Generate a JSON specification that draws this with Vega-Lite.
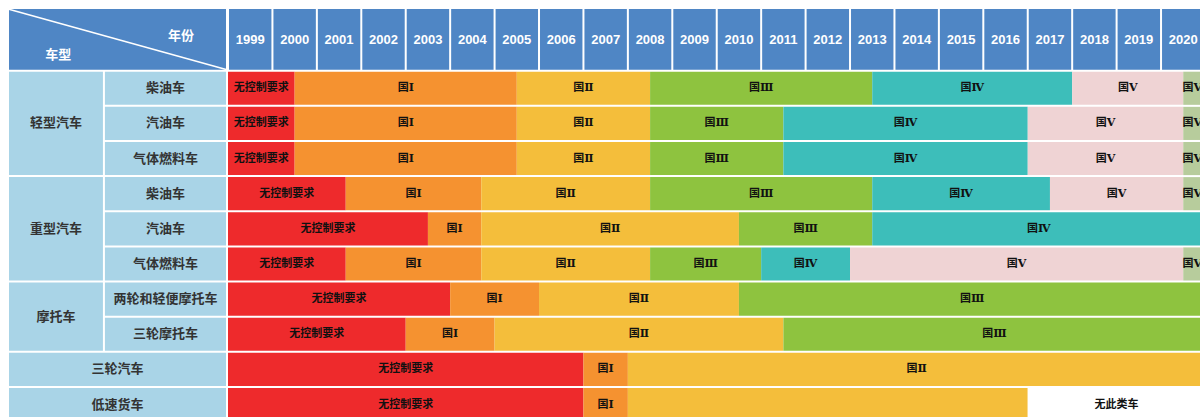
{
  "$schema": "https://vega.github.io/schema/vega-lite/v6.json",
  "background": "white",
  "padding": {"left": 7, "top": 8, "right": 0, "bottom": 0},
  "spacing": 0,
  "config": {"view": {"stroke": null}},
  "datasets": {
    "rowcells": [
      {"label": "轻型汽车", "c0": 0, "c1": 0.438, "r0": 0, "r1": 3},
      {"label": "柴油车", "c0": 0.438, "c1": 1, "r0": 0, "r1": 1},
      {"label": "汽油车", "c0": 0.438, "c1": 1, "r0": 1, "r1": 2},
      {"label": "气体燃料车", "c0": 0.438, "c1": 1, "r0": 2, "r1": 3},
      {"label": "重型汽车", "c0": 0, "c1": 0.438, "r0": 3, "r1": 6},
      {"label": "柴油车", "c0": 0.438, "c1": 1, "r0": 3, "r1": 4},
      {"label": "汽油车", "c0": 0.438, "c1": 1, "r0": 4, "r1": 5},
      {"label": "气体燃料车", "c0": 0.438, "c1": 1, "r0": 5, "r1": 6},
      {"label": "摩托车", "c0": 0, "c1": 0.438, "r0": 6, "r1": 8},
      {"label": "两轮和轻便摩托车", "c0": 0.438, "c1": 1, "r0": 6, "r1": 7},
      {"label": "三轮摩托车", "c0": 0.438, "c1": 1, "r0": 7, "r1": 8},
      {"label": "三轮汽车", "c0": 0, "c1": 1, "r0": 8, "r1": 9},
      {"label": "低速货车", "c0": 0, "c1": 1, "r0": 9, "r1": 10}
    ],
    "years": [
      {"year": 1999, "end": 2000, "label": "1999"},
      {"year": 2000, "end": 2001, "label": "2000"},
      {"year": 2001, "end": 2002, "label": "2001"},
      {"year": 2002, "end": 2003, "label": "2002"},
      {"year": 2003, "end": 2004, "label": "2003"},
      {"year": 2004, "end": 2005, "label": "2004"},
      {"year": 2005, "end": 2006, "label": "2005"},
      {"year": 2006, "end": 2007, "label": "2006"},
      {"year": 2007, "end": 2008, "label": "2007"},
      {"year": 2008, "end": 2009, "label": "2008"},
      {"year": 2009, "end": 2010, "label": "2009"},
      {"year": 2010, "end": 2011, "label": "2010"},
      {"year": 2011, "end": 2012, "label": "2011"},
      {"year": 2012, "end": 2013, "label": "2012"},
      {"year": 2013, "end": 2014, "label": "2013"},
      {"year": 2014, "end": 2015, "label": "2014"},
      {"year": 2015, "end": 2016, "label": "2015"},
      {"year": 2016, "end": 2017, "label": "2016"},
      {"year": 2017, "end": 2018, "label": "2017"},
      {"year": 2018, "end": 2019, "label": "2018"},
      {"year": 2019, "end": 2020, "label": "2019"},
      {"year": 2020, "end": 2021, "label": "2020"}
    ],
    "segments": [
      {"vehicle": "轻型汽车-柴油车", "row": 0, "rowEnd": 1, "stage": "无控制要求", "label": "无控制要求", "start": 1999, "end": 2000.5},
      {"vehicle": "轻型汽车-柴油车", "row": 0, "rowEnd": 1, "stage": "国Ⅰ", "label": "国Ⅰ", "start": 2000.5, "end": 2005.5},
      {"vehicle": "轻型汽车-柴油车", "row": 0, "rowEnd": 1, "stage": "国Ⅱ", "label": "国Ⅱ", "start": 2005.5, "end": 2008.5},
      {"vehicle": "轻型汽车-柴油车", "row": 0, "rowEnd": 1, "stage": "国Ⅲ", "label": "国Ⅲ", "start": 2008.5, "end": 2013.5},
      {"vehicle": "轻型汽车-柴油车", "row": 0, "rowEnd": 1, "stage": "国Ⅳ", "label": "国Ⅳ", "start": 2013.5, "end": 2018},
      {"vehicle": "轻型汽车-柴油车", "row": 0, "rowEnd": 1, "stage": "国Ⅴ", "label": "国Ⅴ", "start": 2018, "end": 2020.5},
      {"vehicle": "轻型汽车-柴油车", "row": 0, "rowEnd": 1, "stage": "国Ⅵ", "label": "国Ⅵ", "start": 2020.5, "end": 2021},

      {"vehicle": "轻型汽车-汽油车", "row": 1, "rowEnd": 2, "stage": "无控制要求", "label": "无控制要求", "start": 1999, "end": 2000.5},
      {"vehicle": "轻型汽车-汽油车", "row": 1, "rowEnd": 2, "stage": "国Ⅰ", "label": "国Ⅰ", "start": 2000.5, "end": 2005.5},
      {"vehicle": "轻型汽车-汽油车", "row": 1, "rowEnd": 2, "stage": "国Ⅱ", "label": "国Ⅱ", "start": 2005.5, "end": 2008.5},
      {"vehicle": "轻型汽车-汽油车", "row": 1, "rowEnd": 2, "stage": "国Ⅲ", "label": "国Ⅲ", "start": 2008.5, "end": 2011.5},
      {"vehicle": "轻型汽车-汽油车", "row": 1, "rowEnd": 2, "stage": "国Ⅳ", "label": "国Ⅳ", "start": 2011.5, "end": 2017},
      {"vehicle": "轻型汽车-汽油车", "row": 1, "rowEnd": 2, "stage": "国Ⅴ", "label": "国Ⅴ", "start": 2017, "end": 2020.5},
      {"vehicle": "轻型汽车-汽油车", "row": 1, "rowEnd": 2, "stage": "国Ⅵ", "label": "国Ⅵ", "start": 2020.5, "end": 2021},

      {"vehicle": "轻型汽车-气体燃料车", "row": 2, "rowEnd": 3, "stage": "无控制要求", "label": "无控制要求", "start": 1999, "end": 2000.5},
      {"vehicle": "轻型汽车-气体燃料车", "row": 2, "rowEnd": 3, "stage": "国Ⅰ", "label": "国Ⅰ", "start": 2000.5, "end": 2005.5},
      {"vehicle": "轻型汽车-气体燃料车", "row": 2, "rowEnd": 3, "stage": "国Ⅱ", "label": "国Ⅱ", "start": 2005.5, "end": 2008.5},
      {"vehicle": "轻型汽车-气体燃料车", "row": 2, "rowEnd": 3, "stage": "国Ⅲ", "label": "国Ⅲ", "start": 2008.5, "end": 2011.5},
      {"vehicle": "轻型汽车-气体燃料车", "row": 2, "rowEnd": 3, "stage": "国Ⅳ", "label": "国Ⅳ", "start": 2011.5, "end": 2017},
      {"vehicle": "轻型汽车-气体燃料车", "row": 2, "rowEnd": 3, "stage": "国Ⅴ", "label": "国Ⅴ", "start": 2017, "end": 2020.5},
      {"vehicle": "轻型汽车-气体燃料车", "row": 2, "rowEnd": 3, "stage": "国Ⅵ", "label": "国Ⅵ", "start": 2020.5, "end": 2021},

      {"vehicle": "重型汽车-柴油车", "row": 3, "rowEnd": 4, "stage": "无控制要求", "label": "无控制要求", "start": 1999, "end": 2001.65},
      {"vehicle": "重型汽车-柴油车", "row": 3, "rowEnd": 4, "stage": "国Ⅰ", "label": "国Ⅰ", "start": 2001.65, "end": 2004.7},
      {"vehicle": "重型汽车-柴油车", "row": 3, "rowEnd": 4, "stage": "国Ⅱ", "label": "国Ⅱ", "start": 2004.7, "end": 2008.5},
      {"vehicle": "重型汽车-柴油车", "row": 3, "rowEnd": 4, "stage": "国Ⅲ", "label": "国Ⅲ", "start": 2008.5, "end": 2013.5},
      {"vehicle": "重型汽车-柴油车", "row": 3, "rowEnd": 4, "stage": "国Ⅳ", "label": "国Ⅳ", "start": 2013.5, "end": 2017.5},
      {"vehicle": "重型汽车-柴油车", "row": 3, "rowEnd": 4, "stage": "国Ⅴ", "label": "国Ⅴ", "start": 2017.5, "end": 2020.5},
      {"vehicle": "重型汽车-柴油车", "row": 3, "rowEnd": 4, "stage": "国Ⅵ", "label": "国Ⅵ", "start": 2020.5, "end": 2021},

      {"vehicle": "重型汽车-汽油车", "row": 4, "rowEnd": 5, "stage": "无控制要求", "label": "无控制要求", "start": 1999, "end": 2003.5},
      {"vehicle": "重型汽车-汽油车", "row": 4, "rowEnd": 5, "stage": "国Ⅰ", "label": "国Ⅰ", "start": 2003.5, "end": 2004.7},
      {"vehicle": "重型汽车-汽油车", "row": 4, "rowEnd": 5, "stage": "国Ⅱ", "label": "国Ⅱ", "start": 2004.7, "end": 2010.5},
      {"vehicle": "重型汽车-汽油车", "row": 4, "rowEnd": 5, "stage": "国Ⅲ", "label": "国Ⅲ", "start": 2010.5, "end": 2013.5},
      {"vehicle": "重型汽车-汽油车", "row": 4, "rowEnd": 5, "stage": "国Ⅳ", "label": "国Ⅳ", "start": 2013.5, "end": 2021},

      {"vehicle": "重型汽车-气体燃料车", "row": 5, "rowEnd": 6, "stage": "无控制要求", "label": "无控制要求", "start": 1999, "end": 2001.65},
      {"vehicle": "重型汽车-气体燃料车", "row": 5, "rowEnd": 6, "stage": "国Ⅰ", "label": "国Ⅰ", "start": 2001.65, "end": 2004.7},
      {"vehicle": "重型汽车-气体燃料车", "row": 5, "rowEnd": 6, "stage": "国Ⅱ", "label": "国Ⅱ", "start": 2004.7, "end": 2008.5},
      {"vehicle": "重型汽车-气体燃料车", "row": 5, "rowEnd": 6, "stage": "国Ⅲ", "label": "国Ⅲ", "start": 2008.5, "end": 2011},
      {"vehicle": "重型汽车-气体燃料车", "row": 5, "rowEnd": 6, "stage": "国Ⅳ", "label": "国Ⅳ", "start": 2011, "end": 2013},
      {"vehicle": "重型汽车-气体燃料车", "row": 5, "rowEnd": 6, "stage": "国Ⅴ", "label": "国Ⅴ", "start": 2013, "end": 2020.5},
      {"vehicle": "重型汽车-气体燃料车", "row": 5, "rowEnd": 6, "stage": "国Ⅵ", "label": "国Ⅵ", "start": 2020.5, "end": 2021},

      {"vehicle": "摩托车-两轮和轻便摩托车", "row": 6, "rowEnd": 7, "stage": "无控制要求", "label": "无控制要求", "start": 1999, "end": 2004},
      {"vehicle": "摩托车-两轮和轻便摩托车", "row": 6, "rowEnd": 7, "stage": "国Ⅰ", "label": "国Ⅰ", "start": 2004, "end": 2006},
      {"vehicle": "摩托车-两轮和轻便摩托车", "row": 6, "rowEnd": 7, "stage": "国Ⅱ", "label": "国Ⅱ", "start": 2006, "end": 2010.5},
      {"vehicle": "摩托车-两轮和轻便摩托车", "row": 6, "rowEnd": 7, "stage": "国Ⅲ", "label": "国Ⅲ", "start": 2010.5, "end": 2021},

      {"vehicle": "摩托车-三轮摩托车", "row": 7, "rowEnd": 8, "stage": "无控制要求", "label": "无控制要求", "start": 1999, "end": 2003},
      {"vehicle": "摩托车-三轮摩托车", "row": 7, "rowEnd": 8, "stage": "国Ⅰ", "label": "国Ⅰ", "start": 2003, "end": 2005},
      {"vehicle": "摩托车-三轮摩托车", "row": 7, "rowEnd": 8, "stage": "国Ⅱ", "label": "国Ⅱ", "start": 2005, "end": 2011.5},
      {"vehicle": "摩托车-三轮摩托车", "row": 7, "rowEnd": 8, "stage": "国Ⅲ", "label": "国Ⅲ", "start": 2011.5, "end": 2021},

      {"vehicle": "三轮汽车", "row": 8, "rowEnd": 9, "stage": "无控制要求", "label": "无控制要求", "start": 1999, "end": 2007},
      {"vehicle": "三轮汽车", "row": 8, "rowEnd": 9, "stage": "国Ⅰ", "label": "国Ⅰ", "start": 2007, "end": 2008},
      {"vehicle": "三轮汽车", "row": 8, "rowEnd": 9, "stage": "国Ⅱ", "label": "国Ⅱ", "start": 2008, "end": 2021},

      {"vehicle": "低速货车", "row": 9, "rowEnd": 10, "stage": "无控制要求", "label": "无控制要求", "start": 1999, "end": 2007},
      {"vehicle": "低速货车", "row": 9, "rowEnd": 10, "stage": "国Ⅰ", "label": "国Ⅰ", "start": 2007, "end": 2008},
      {"vehicle": "低速货车", "row": 9, "rowEnd": 10, "stage": "国Ⅱ", "label": "", "start": 2008, "end": 2017},
      {"vehicle": "低速货车", "row": 9, "rowEnd": 10, "stage": "无此类车", "label": "无此类车", "start": 2017, "end": 2021}
    ]
  },
  "hconcat": [
    {
      "width": 219,
      "height": 409,
      "layer": [
        {
          "data": {"values": [{"cell": "车型/年份"}]},
          "mark": {"type": "rect", "fill": "#4F86C5", "xOffset": 1, "x2Offset": -1, "yOffset": 1, "y2Offset": -1},
          "encoding": {
            "x": {"datum": 0, "type": "quantitative", "scale": {"domain": [0, 1], "nice": false, "zero": false}, "axis": null},
            "x2": {"datum": 1},
            "y": {"datum": -1.784, "type": "quantitative", "scale": {"domain": [-1.784, 9.855], "reverse": true, "nice": false, "zero": false}, "axis": null},
            "y2": {"datum": 0}
          }
        },
        {
          "data": {"values": [{"cell": "diagonal"}]},
          "mark": {"type": "rule", "stroke": "white", "strokeWidth": 1.6, "yOffset": 1, "y2Offset": -1},
          "encoding": {
            "x": {"datum": 0, "type": "quantitative"},
            "x2": {"datum": 1},
            "y": {"datum": -1.784, "type": "quantitative"},
            "y2": {"datum": 0}
          }
        },
        {
          "data": {"values": [{"label": "年份"}]},
          "mark": {"type": "text", "font": "Noto Sans CJK SC", "fontSize": 13, "fontWeight": "bold", "fill": "white", "align": "center", "baseline": "middle"},
          "encoding": {
            "x": {"datum": 0.79, "type": "quantitative"},
            "y": {"datum": -1.0, "type": "quantitative"},
            "text": {"field": "label"}
          }
        },
        {
          "data": {"values": [{"label": "车型"}]},
          "mark": {"type": "text", "font": "Noto Sans CJK SC", "fontSize": 13, "fontWeight": "bold", "fill": "white", "align": "center", "baseline": "middle"},
          "encoding": {
            "x": {"datum": 0.23, "type": "quantitative"},
            "y": {"datum": -0.44, "type": "quantitative"},
            "text": {"field": "label"}
          }
        },
        {
          "data": {"name": "rowcells"},
          "mark": {"type": "rect", "fill": "#A9D4E7", "xOffset": 1, "x2Offset": -1, "yOffset": 1, "y2Offset": -1, "clip": true},
          "encoding": {
            "x": {"field": "c0", "type": "quantitative"},
            "x2": {"field": "c1"},
            "y": {"field": "r0", "type": "quantitative"},
            "y2": {"field": "r1"}
          }
        },
        {
          "data": {"name": "rowcells"},
          "transform": [
            {"calculate": "(datum.c0 + datum.c1) / 2", "as": "cx"},
            {"calculate": "(datum.r0 + datum.r1) / 2", "as": "cy"}
          ],
          "mark": {"type": "text", "font": "Noto Sans CJK SC", "fontSize": 13, "fontWeight": "bold", "fill": "#333333", "align": "center", "baseline": "middle", "clip": true},
          "encoding": {
            "x": {"field": "cx", "type": "quantitative"},
            "y": {"field": "cy", "type": "quantitative"},
            "text": {"field": "label"}
          }
        }
      ]
    },
    {
      "width": 974,
      "height": 409,
      "layer": [
        {
          "data": {"name": "years"},
          "mark": {"type": "rect", "fill": "#4F86C5", "xOffset": 1, "x2Offset": -1, "yOffset": 1, "y2Offset": -1, "clip": true},
          "encoding": {
            "x": {"field": "year", "type": "quantitative", "scale": {"domain": [1999, 2020.922], "nice": false, "zero": false}, "axis": null},
            "x2": {"field": "end"},
            "y": {"datum": -1.784, "type": "quantitative", "scale": {"domain": [-1.784, 9.855], "reverse": true, "nice": false, "zero": false}, "axis": null},
            "y2": {"datum": 0}
          }
        },
        {
          "data": {"name": "years"},
          "transform": [{"calculate": "(datum.year + datum.end) / 2", "as": "mid"}],
          "mark": {"type": "text", "font": "Liberation Sans", "fontSize": 13, "fontWeight": "bold", "fill": "white", "align": "center", "baseline": "middle", "clip": true},
          "encoding": {
            "x": {"field": "mid", "type": "quantitative"},
            "y": {"datum": -0.87, "type": "quantitative"},
            "text": {"field": "label"}
          }
        },
        {
          "data": {"name": "segments"},
          "mark": {"type": "rect", "yOffset": 1, "y2Offset": -1, "clip": true},
          "encoding": {
            "x": {"field": "start", "type": "quantitative"},
            "x2": {"field": "end"},
            "y": {"field": "row", "type": "quantitative"},
            "y2": {"field": "rowEnd"},
            "color": {
              "field": "stage",
              "type": "nominal",
              "legend": null,
              "scale": {
                "domain": ["无控制要求", "国Ⅰ", "国Ⅱ", "国Ⅲ", "国Ⅳ", "国Ⅴ", "国Ⅵ", "无此类车"],
                "range": ["#EE2A2C", "#F59230", "#F4BE3B", "#8EC33F", "#3DBEBA", "#EFD3D4", "#B7CC9C", "#FFFFFF"]
              }
            }
          }
        },
        {
          "data": {"name": "segments"},
          "transform": [
            {"filter": "datum.label != ''"},
            {"calculate": "(datum.start + datum.end) / 2", "as": "mid"},
            {"calculate": "(datum.row + datum.rowEnd) / 2", "as": "midRow"}
          ],
          "mark": {"type": "text", "font": "'DejaVu Serif', 'Noto Sans CJK SC'", "fontSize": 11, "fontWeight": "bold", "fill": "#111111", "align": "center", "baseline": "middle", "clip": true},
          "encoding": {
            "x": {"field": "mid", "type": "quantitative"},
            "y": {"field": "midRow", "type": "quantitative"},
            "text": {"field": "label"}
          }
        }
      ]
    }
  ]
}
